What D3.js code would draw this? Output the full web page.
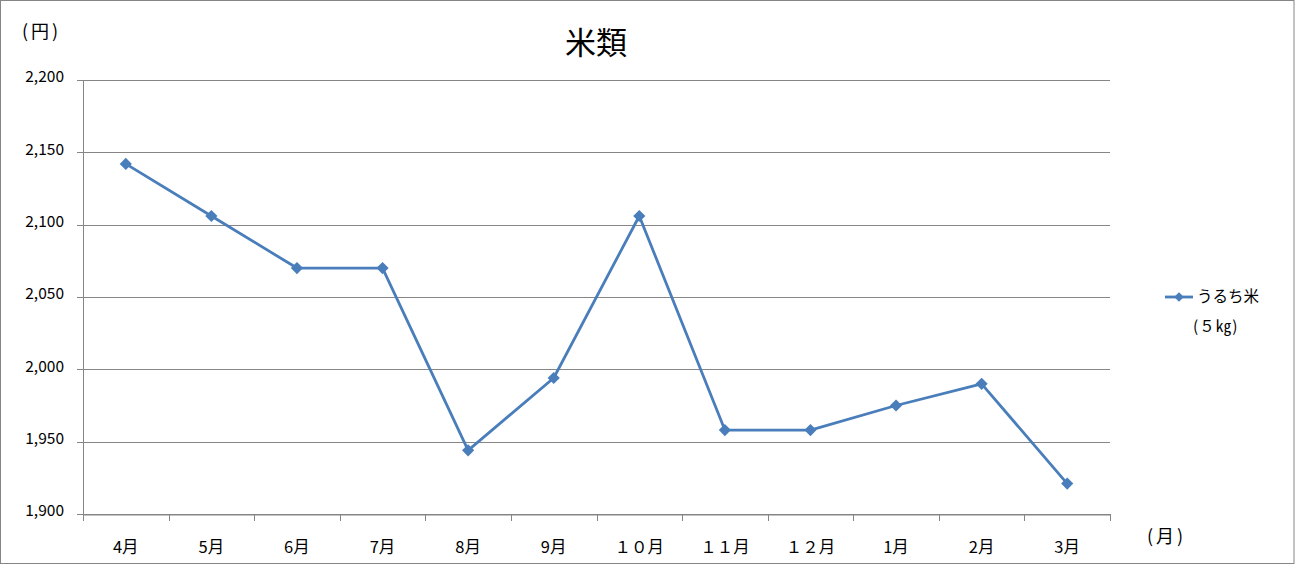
<!DOCTYPE html>
<html>
<head>
<meta charset="utf-8">
<script src="https://cdn.jsdelivr.net/npm/d3@7"></script>
<style>
  body { margin: 0; background: #fff; }
  svg text { font-family: "Noto Sans CJK JP", "Noto Sans", sans-serif; fill: #000; }
</style>
</head>
<body>
<div id="my_dataviz"></div>
<script>
// data
var months = ["4月", "5月", "6月", "7月", "8月", "9月", "１０月", "１１月", "１２月", "1月", "2月", "3月"];
var rice = [2142, 2106, 2070, 2070, 1944, 1994, 2106, 1958, 1958, 1975, 1990, 1921];
var yTicks = [1900, 1950, 2000, 2050, 2100, 2150, 2200];
var seriesName = "うるち米";
var seriesUnit = "(５㎏)";

var W = 1295, H = 565;
var margin = { top: 80, left: 83, right: 1295 - 1110, bottom: 565 - 514 },
    width = W - margin.left - margin.right,
    height = H - margin.top - margin.bottom;

var root = d3.select("#my_dataviz").append("svg")
    .attr("width", W)
    .attr("height", H);

// outer frame
root.append("rect")
    .attr("x", 0.5).attr("y", 0.5)
    .attr("width", W - 1.5).attr("height", H - 2)
    .attr("fill", "#fff")
    .attr("stroke", "#868686");

var svg = root.append("g")
    .attr("transform", "translate(" + margin.left + "," + margin.top + ")");

var x = d3.scaleBand()
    .domain(months)
    .range([0, width]);

var y = d3.scaleLinear()
    .domain([1900, 2200])
    .range([height, 0]);

// grid lines
svg.append("g")
    .selectAll("line")
    .data(yTicks)
    .enter()
    .append("line")
    .attr("x1", -6)
    .attr("x2", width)
    .attr("y1", function (d) { return Math.round(y(d)) + 0.5 })
    .attr("y2", function (d) { return Math.round(y(d)) + 0.5 })
    .attr("stroke", "#868686");

// y axis line + labels
svg.append("line")
    .attr("x1", 0.5).attr("x2", 0.5)
    .attr("y1", 0).attr("y2", height)
    .attr("stroke", "#868686");

svg.append("g")
    .selectAll("text")
    .data(yTicks)
    .enter()
    .append("text")
    .attr("x", -19)
    .attr("y", function (d) { return y(d) })
    .attr("dy", "0.15em")
    .attr("text-anchor", "end")
    .style("font-size", "15.5px")
    .text(function (d) { return d3.format(",")(d) });

// x axis
var xAxis = svg.append("g")
    .attr("transform", "translate(0," + (Math.round(height) + 0.5) + ")")
    .call(d3.axisBottom(x).tickSize(0).tickFormat(""));
xAxis.select(".domain").attr("stroke", "#868686");

var bounds = months.map(function (m) { return x(m) }).concat([width]);
svg.append("g")
    .selectAll("line")
    .data(bounds)
    .enter()
    .append("line")
    .attr("x1", function (d) { return Math.round(d) + 0.5 })
    .attr("x2", function (d) { return Math.round(d) + 0.5 })
    .attr("y1", height)
    .attr("y2", height + 7)
    .attr("stroke", "#868686");

svg.append("g")
    .selectAll("text")
    .data(months)
    .enter()
    .append("text")
    .attr("x", function (d) { return x(d) + x.bandwidth() / 2 })
    .attr("y", height + 39)
    .attr("text-anchor", "middle")
    .style("font-size", "16.5px")
    .text(function (d) { return d });

// line + markers
var line = d3.line()
    .x(function (d, i) { return x(months[i]) + x.bandwidth() / 2 })
    .y(function (d) { return y(d) });

svg.append("path")
    .datum(rice)
    .attr("d", line)
    .attr("fill", "none")
    .attr("stroke", "#4a7ebb")
    .attr("stroke-width", 2.8)
    .attr("stroke-linejoin", "round");

svg.append("g")
    .selectAll("path")
    .data(rice)
    .enter()
    .append("path")
    .attr("d", d3.symbol().type(d3.symbolDiamond2).size(95))
    .attr("transform", function (d, i) {
        return "translate(" + (x(months[i]) + x.bandwidth() / 2) + "," + y(d) + ")";
    })
    .attr("fill", "#4a7ebb");

// titles
root.append("text")
    .attr("x", 596).attr("y", 54)
    .attr("text-anchor", "middle")
    .style("font-size", "31px")
    .text("米類");

root.append("text")
    .attr("x", 22).attr("y", 38)
    .style("font-size", "18px")
    .style("letter-spacing", "3px")
    .text("(円)");

root.append("text")
    .attr("x", 1147).attr("y", 543)
    .style("font-size", "18px")
    .style("letter-spacing", "3px")
    .text("(月)");

// legend
var lg = root.append("g").attr("transform", "translate(1165,297)");
lg.append("line")
    .attr("x1", 0).attr("x2", 28)
    .attr("y1", 0).attr("y2", 0)
    .attr("stroke", "#4a7ebb")
    .attr("stroke-width", 2.8);
lg.append("path")
    .attr("d", d3.symbol().type(d3.symbolDiamond2).size(60))
    .attr("transform", "translate(14,0)")
    .attr("fill", "#4a7ebb");
lg.append("text")
    .attr("x", 32).attr("y", 5)
    .style("font-size", "15.5px")
    .text(seriesName);
lg.append("text")
    .attr("x", 28).attr("y", 35)
    .style("font-size", "15.5px")
    .style("letter-spacing", "1px")
    .text(seriesUnit);
</script>
</body>
</html>
